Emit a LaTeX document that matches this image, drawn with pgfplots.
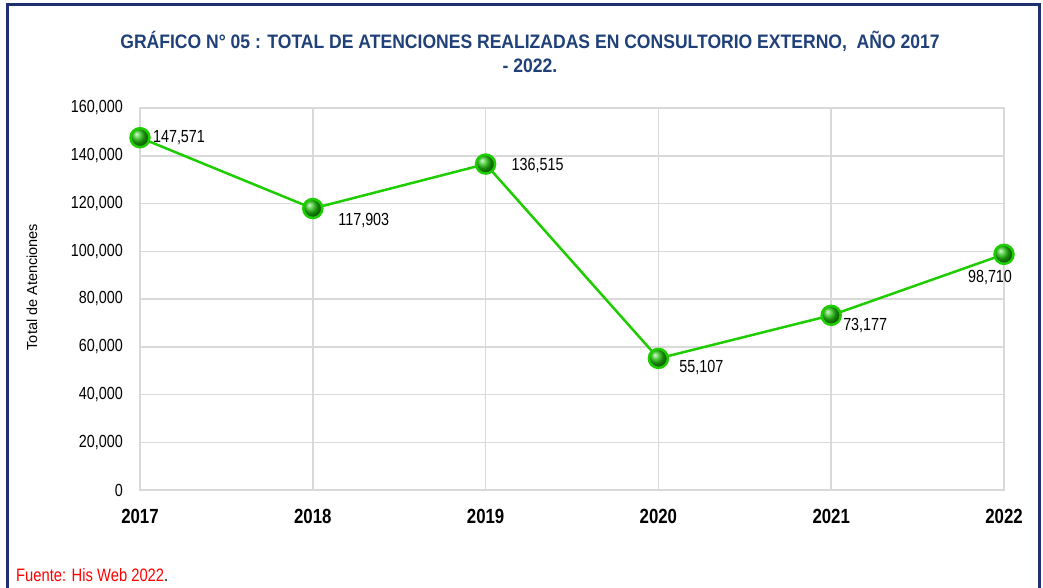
\documentclass[border=0pt]{standalone}
\usepackage{pgfplots}
\pgfplotsset{compat=1.18}
\usepackage{fontspec}
\setmainfont{Liberation Sans}[FakeStretch=0.82]
\newfontfamily\titlefont{Liberation Sans}[FakeStretch=0.9]
\newfontfamily\widefont{Liberation Sans}
\definecolor{frame}{RGB}{31,48,112}
\definecolor{titleblue}{RGB}{31,64,120}
\definecolor{gridgray}{RGB}{217,217,217}
\definecolor{linegreen}{RGB}{30,205,0}
\definecolor{ballgreen}{RGB}{30,190,10}
\begin{document}
\begin{tikzpicture}
\useasboundingbox (0,0) rectangle (1043bp,-588bp);
\draw[color=frame, line width=2.5bp] (7.5bp,-590bp) -- (7.5bp,-4.5bp) -- (1039.5bp,-4.5bp) -- (1039.5bp,-590bp);
\node[font=\titlefont\fontsize{19.5bp}{23bp}\selectfont\bfseries, text=titleblue, inner sep=0pt] at (530bp,-41bp) {GRÁFICO N° 05 : TOTAL DE ATENCIONES REALIZADAS EN CONSULTORIO EXTERNO,~ AÑO 2017};
\node[font=\titlefont\fontsize{19.5bp}{23bp}\selectfont\bfseries, text=titleblue, inner sep=0pt] at (530bp,-66bp) {- 2022.};
\node[font=\widefont\fontsize{14.5bp}{17bp}\selectfont, rotate=90, inner sep=0pt] at (32bp,-287bp) {Total de Atenciones};
\node[font=\fontsize{18bp}{21bp}\selectfont, anchor=west, inner sep=0pt] at (16bp,-575bp) {\textcolor{red}{Fuente: His Web 2022}.};
\begin{axis}[
  at={(140bp,-490bp)}, anchor=south west,
  scale only axis, width=864bp, height=382bp,
  xmin=2017, xmax=2022, ymin=0, ymax=160000,
  xtick={2017,2018,2019,2020,2021,2022},
  xticklabels={2017,2018,2019,2020,2021,2022},
  ytick={0,20000,40000,60000,80000,100000,120000,140000,160000},
  scaled y ticks=false,
  /pgf/number format/.cd, fixed, 1000 sep={,}, assume math mode=true, /pgfplots/.cd,
  grid=major,
  major grid style={color=gridgray, line width=1.5bp},
  axis line style={color=gridgray, line width=1.5bp},
  tick style={draw=none},
  yticklabel style={font=\fontsize{17.5bp}{20bp}\selectfont, inner sep=0pt, anchor=east, xshift=-17bp},
  xticklabel style={font=\fontsize{20.5bp}{24bp}\selectfont\bfseries, inner sep=0pt, anchor=north, yshift=-19bp},
  clip=false,
]
\addplot[color=linegreen, line width=2.5bp, mark=ball, mark size=9.5bp, mark options={ball color=ballgreen}]
  coordinates {(2017,147571) (2018,117903) (2019,136515) (2020,55107) (2021,73177) (2022,98710)};
\begin{scope}[every node/.style={font=\fontsize{17.5bp}{20bp}\selectfont, inner sep=0pt}]
\node at (axis cs:2017,147571) [xshift=39bp, yshift=0bp] {147,571};
\node at (axis cs:2018,117903) [xshift=51bp, yshift=-12bp] {117,903};
\node at (axis cs:2019,136515) [xshift=52bp, yshift=-1bp] {136,515};
\node at (axis cs:2020,55107) [xshift=43bp, yshift=-9bp] {55,107};
\node at (axis cs:2021,73177) [xshift=34bp, yshift=-10bp] {73,177};
\node at (axis cs:2022,98710) [xshift=-14bp, yshift=-23bp] {98,710};
\end{scope}
\end{axis}
\end{tikzpicture}
\end{document}
